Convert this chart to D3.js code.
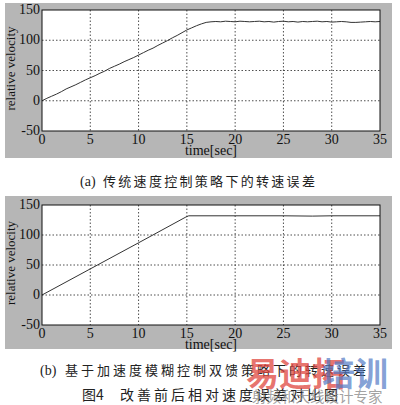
<!DOCTYPE html>
<html lang="zh">
<head>
<meta charset="UTF-8">
<title>Relative velocity</title>
<script src="https://d3js.org/d3.v7.min.js"></script>
<style>
    body { margin: 0; background: #fff; }
</style>
</head>
<body>
<script>
    // time axis values (s) and readings for both panels
    const timeA = [0,0.5,1,1.5,2,2.5,3,3.5,4,4.5,5,5.5,6,6.5,7,7.5,8,8.5,9,9.5,
        10,10.5,11,11.5,12,12.5,13,13.5,14,14.5,15,15.5,16,16.5,17,17.5,18,18.5,19,19.5,
        20,20.5,21,21.5,22,22.5,23,23.5,24,24.5,25,25.5,26,26.5,27,27.5,28,28.5,29,29.5,
        30,30.5,31,31.5,32,32.5,33,33.5,34,34.5,35];
    const velA = [0,4,7.5,11,15,19.5,23,26.5,30.5,34.5,
        38,41.5,45.5,49,53.5,57,60.5,64.5,68,71.5,
        75.5,79.5,83.5,87,91.5,95.5,99.5,104,108,112.5,
        117,120.5,124,127,129.5,130.5,131,130.5,131.5,131,
        130.5,131.5,131,130.5,131,131.5,130.5,131,130,131,
        131.5,130.5,131,130,131,130.5,131,131.5,130.5,131,
        130,130.5,131,130.5,129.5,129.5,130,130.5,131,130.5,131];
    const timeB = [0,5,10,14.9,15.2,20,25,28,30,35];
    const velB = [0,43.5,87,130,132,132,132,131.5,132,132];
    const xTicks = [0,5,10,15,20,25,30,35];
    const yTicks = [-50,0,50,100,150];

    const serif = "'Liberation Serif', 'Times New Roman', 'DejaVu Serif', serif";
    const cjk = "'Noto Sans CJK SC', sans-serif";

    const W = 400, H = 405;
    const svg = d3.select("body").append("svg")
        .attr("width", W).attr("height", H);

    function panel(top, bottom, grayTop, grayBottom, tickY, labelY, times, vals) {
        svg.append("rect")
            .attr("x", 5).attr("y", grayTop)
            .attr("width", 387).attr("height", grayBottom - grayTop)
            .attr("fill", "#b6b6b6");

        let x = d3.scaleLinear().domain([0, 35]).range([42, 380]);
        let y = d3.scaleLinear().domain([-50, 150]).range([bottom, top]);

        svg.append("rect")
            .attr("x", x(0)).attr("y", y(150))
            .attr("width", x(35) - x(0)).attr("height", y(-50) - y(150))
            .attr("fill", "#fff");

        // dotted grid
        svg.append("g").selectAll("line")
            .data(xTicks.slice(1, -1))
            .enter().append("line")
            .attr("x1", d => x(d)).attr("x2", d => x(d))
            .attr("y1", y(150)).attr("y2", y(-50))
            .attr("stroke", "#222").attr("stroke-width", 0.8)
            .attr("stroke-dasharray", "1.5,2");
        svg.append("g").selectAll("line")
            .data(yTicks.slice(1, -1))
            .enter().append("line")
            .attr("x1", x(0)).attr("x2", x(35))
            .attr("y1", d => y(d)).attr("y2", d => y(d))
            .attr("stroke", "#222").attr("stroke-width", 0.8)
            .attr("stroke-dasharray", "1.5,2");

        // curve
        let line = d3.line().x((d, i) => x(times[i])).y(d => y(d));
        svg.append("path")
            .datum(vals)
            .attr("d", line)
            .attr("fill", "none")
            .attr("stroke", "#333")
            .attr("stroke-width", 1);

        // frame
        svg.append("rect")
            .attr("x", x(0)).attr("y", y(150))
            .attr("width", x(35) - x(0)).attr("height", y(-50) - y(150))
            .attr("fill", "none").attr("stroke", "#111").attr("stroke-width", 1);

        // tick labels
        svg.append("g").selectAll("text")
            .data(xTicks)
            .enter().append("text")
            .attr("x", d => x(d)).attr("y", tickY)
            .attr("text-anchor", "middle")
            .attr("font-family", serif)
            .attr("font-size", 14).attr("fill", "#111")
            .text(d => d);
        svg.append("g").selectAll("text")
            .data(yTicks)
            .enter().append("text")
            .attr("x", 40).attr("y", d => y(d) + 4)
            .attr("text-anchor", "end")
            .attr("font-family", serif)
            .attr("font-size", 14).attr("fill", "#111")
            .text(d => d);

        svg.append("text")
            .attr("x", 211).attr("y", labelY)
            .attr("text-anchor", "middle")
            .attr("font-family", serif)
            .attr("font-size", 14).attr("fill", "#111")
            .text("time[sec]");
        svg.append("text")
            .attr("transform", "translate(15," + ((top + bottom) / 2 - 2) + ") rotate(-90)")
            .attr("text-anchor", "middle")
            .attr("font-family", serif)
            .attr("font-size", 13).attr("fill", "#111")
            .text("relative velocity");
    }

    panel(10, 131, 3, 158, 144, 155, timeA, velA);
    panel(205, 325, 196, 349, 338, 349, timeB, velB);

    function caption(txt, x0, y0, size, spacing, fam) {
        svg.append("text")
            .attr("x", x0).attr("y", y0)
            .attr("font-family", fam)
            .attr("font-size", size).attr("letter-spacing", spacing)
            .attr("fill", "#222")
            .text(txt);
    }
    caption("(a)", 80, 186, 14, 0, serif);
    caption("传统速度控制策略下的转速误差", 103, 186, 13, 2.3, cjk);
    caption("(b)", 40, 375, 14, 0, serif);
    caption("基于加速度模糊控制双馈策略下的转速误差", 65, 375, 13, 3, cjk);
    caption("图4", 82, 400, 14, 0, cjk);
    caption("改善前后相对速度误差对比图", 120, 400, 14, 3, cjk);

    // watermark
    svg.append("text")
        .attr("x", 246).attr("y", 386)
        .attr("font-family", cjk)
        .attr("font-size", 33).attr("font-weight", "bold")
        .attr("fill", "#e0473f").attr("fill-opacity", 0.75)
        .text("易迪拓");
    svg.append("text")
        .attr("x", 322).attr("y", 386)
        .attr("font-family", cjk)
        .attr("font-size", 33).attr("font-weight", "bold")
        .attr("fill", "#4f78c4").attr("fill-opacity", 0.7)
        .text("培训");
    svg.append("text")
        .attr("x", 252).attr("y", 402)
        .attr("font-family", cjk)
        .attr("font-size", 14.5)
        .attr("fill", "#8a8a8a").attr("fill-opacity", 0.8)
        .text("射频和天线设计专家");
</script>
</body>
</html>
